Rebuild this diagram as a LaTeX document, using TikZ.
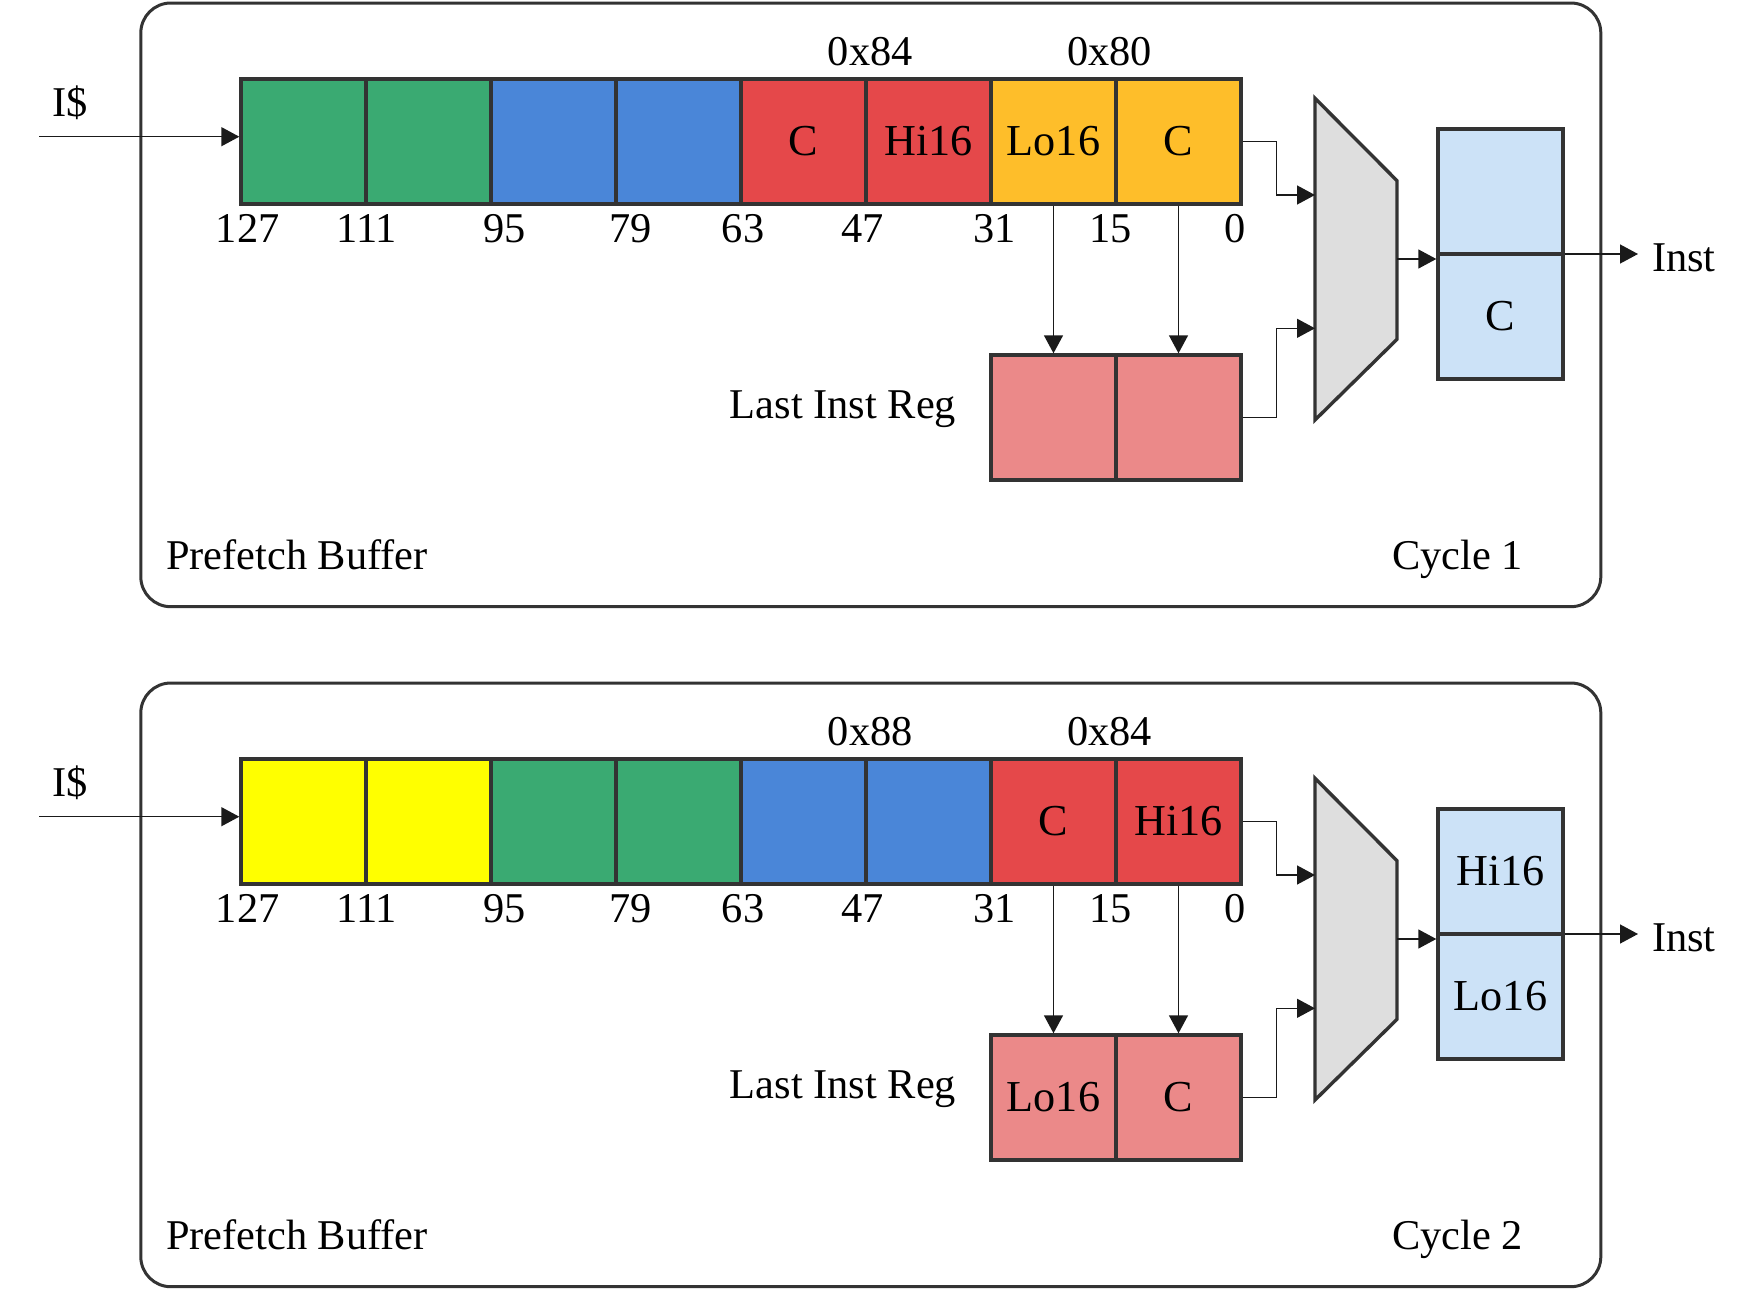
\documentclass[tikz,border=0pt]{standalone}
\usepackage{fontspec}
\setmainfont{Liberation Serif}
\usetikzlibrary{arrows.meta}
\definecolor{grn}{RGB}{58,170,114}
\definecolor{blu}{RGB}{74,134,216}
\definecolor{red}{RGB}{229,72,74}
\definecolor{org}{RGB}{254,190,42}
\definecolor{yel}{RGB}{255,255,0}
\definecolor{pnk}{RGB}{235,137,137}
\definecolor{lblu}{RGB}{204,226,247}
\definecolor{muxgray}{RGB}{222,222,222}
\definecolor{edge}{RGB}{51,51,51}
\definecolor{ink}{RGB}{26,26,26}
\begin{document}
\begin{tikzpicture}[x=0.5pt,y=-0.5pt,font=\fontsize{21.2}{25}\selectfont,
  cell/.style={draw=edge,line width=1.7pt,minimum width=62.5pt,minimum height=62.5pt,inner sep=0pt,font=\fontsize{22.1}{26}\selectfont},
  wire/.style={draw=ink,line width=0.7pt,-{Triangle[length=9pt,width=9.5pt]}},
  panel/.style={draw=edge,line width=1.5pt,rounded corners=15pt},
  mux/.style={draw=edge,fill=muxgray,line width=1.7pt},
  lbl/.style={anchor=base,inner sep=0pt}]
\useasboundingbox (0,0) rectangle (1756,1290);

\draw[panel] (140.8,3) rectangle (1600.8,606.7);
\foreach \i/\c/\t in {1/grn/{},2/grn/{},3/blu/{},4/blu/{},5/red/C,6/red/Hi16,7/org/Lo16,8/org/C}
  \node[cell,fill=\c] (t\i) at ({178.5+125*\i},141.5) {\t};
\foreach \b/\x in {127/247.6,111/366.6,95/504.4,79/630.6,63/743,47/862.6,31/994.7,15/1110.6,0/1235}
  \node[lbl] (tb\b) at (\x,242) {\b};
\node[lbl] (ta1) at (870.3,65) {0x84};
\node[lbl] (ta2) at (1109.5,65) {0x80};
\node[lbl] (tic) at (70.4,116.7) {I\$};
\coordinate (tsrc) at (39.4,136.7);
\draw[wire] (tsrc) -- (tsrc -| t1.west);
\node[cell,fill=pnk] (tr1) at (1053.5,417.5) {};
\node[cell,fill=pnk] (tr2) at (1178.5,417.5) {};
\node[lbl] (tlast) at (843,418.3) {Last Inst Reg};
\draw[wire] (t7.south) -- (tr1.north);
\draw[wire] (t8.south) -- (tr2.north);
\draw[mux] (1315,98.3) -- (1397,180.7) -- (1397,339.3) -- (1315,420) -- cycle;
\coordinate (tm1) at (1315,195);
\coordinate (tm2) at (1315,328.3);
\coordinate (tmo) at (1397,259);
\draw[wire] (t8.east) -- ++(34,0) |- (tm1);
\draw[wire] (tr2.east) -- ++(34,0) |- (tm2);
\node[cell,fill=lblu] (to1) at (1500.5,191.5) {};
\node[cell,fill=lblu] (to2) at (1500.5,316.5) {C};
\draw[wire] (tmo) -- (tmo -| to1.west);
\node[lbl,anchor=base west] (tinst) at (1651.7,271.7) {Inst};
\coordinate (tout) at (1638,254);
\draw[wire] (tout -| to1.east) -- (tout);
\node[lbl,anchor=base west] (tpf) at (165.7,569.3) {Prefetch Buffer};
\node[lbl] (tcyc) at (1457.5,569.3) {Cycle 1};

\begin{scope}[yshift=-340pt]
\draw[panel] (140.8,3) rectangle (1600.8,606.7);
\foreach \i/\c/\t in {1/yel/{},2/yel/{},3/grn/{},4/grn/{},5/blu/{},6/blu/{},7/red/C,8/red/Hi16}
  \node[cell,fill=\c] (b\i) at ({178.5+125*\i},141.5) {\t};
\foreach \b/\x in {127/247.6,111/366.6,95/504.4,79/630.6,63/743,47/862.6,31/994.7,15/1110.6,0/1235}
  \node[lbl] (bb\b) at (\x,242) {\b};
\node[lbl] (ba1) at (870.3,65) {0x88};
\node[lbl] (ba2) at (1109.5,65) {0x84};
\node[lbl] (bic) at (70.4,116.7) {I\$};
\coordinate (bsrc) at (39.4,136.7);
\draw[wire] (bsrc) -- (bsrc -| b1.west);
\node[cell,fill=pnk] (br1) at (1053.5,417.5) {Lo16};
\node[cell,fill=pnk] (br2) at (1178.5,417.5) {C};
\node[lbl] (blast) at (843,418.3) {Last Inst Reg};
\draw[wire] (b7.south) -- (br1.north);
\draw[wire] (b8.south) -- (br2.north);
\draw[mux] (1315,98.3) -- (1397,180.7) -- (1397,339.3) -- (1315,420) -- cycle;
\coordinate (bm1) at (1315,195);
\coordinate (bm2) at (1315,328.3);
\coordinate (bmo) at (1397,259);
\draw[wire] (b8.east) -- ++(34,0) |- (bm1);
\draw[wire] (br2.east) -- ++(34,0) |- (bm2);
\node[cell,fill=lblu] (bo1) at (1500.5,191.5) {Hi16};
\node[cell,fill=lblu] (bo2) at (1500.5,316.5) {Lo16};
\draw[wire] (bmo) -- (bmo -| bo1.west);
\node[lbl,anchor=base west] (binst) at (1651.7,271.7) {Inst};
\coordinate (bout) at (1638,254);
\draw[wire] (bout -| bo1.east) -- (bout);
\node[lbl,anchor=base west] (bpf) at (165.7,569.3) {Prefetch Buffer};
\node[lbl] (bcyc) at (1457.5,569.3) {Cycle 2};
\end{scope}
\end{tikzpicture}
\end{document}
